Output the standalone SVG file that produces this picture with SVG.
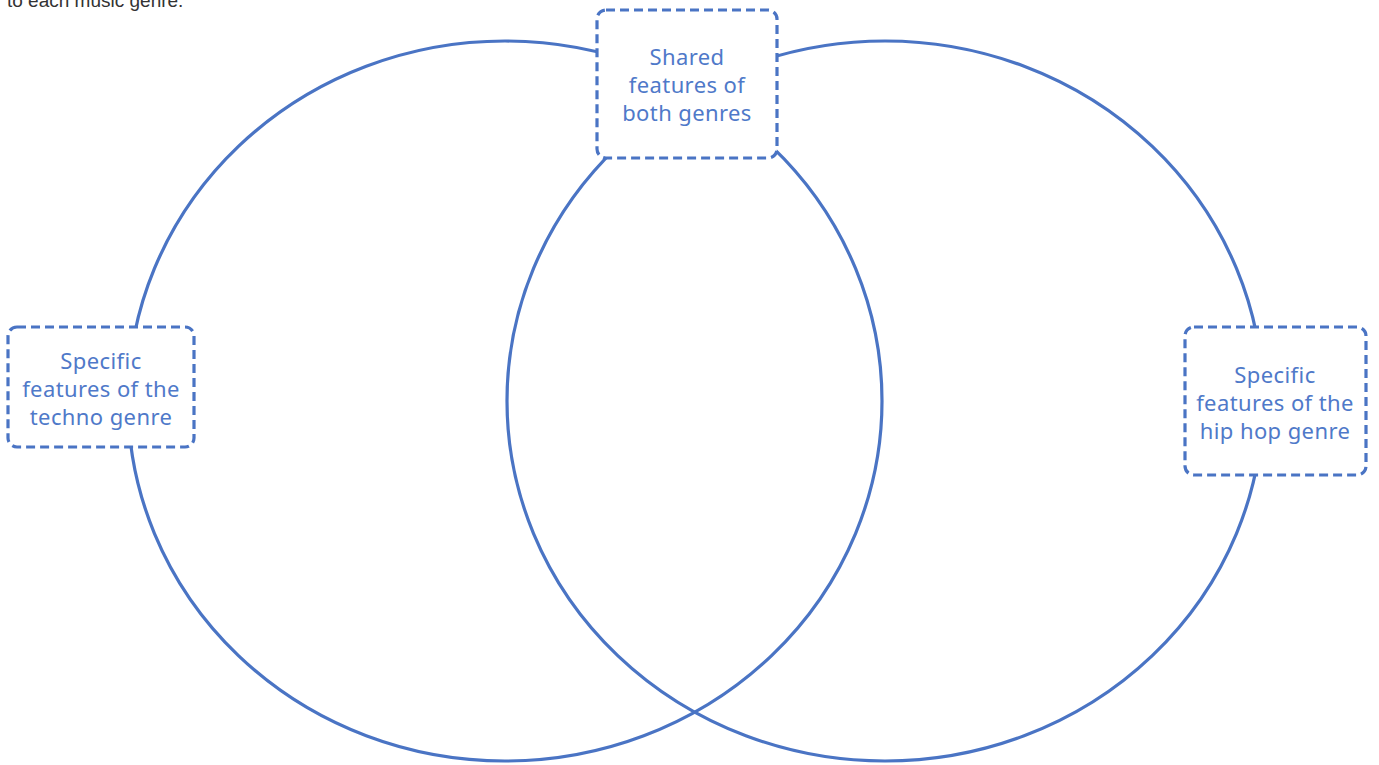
<svg xmlns="http://www.w3.org/2000/svg" width="1379" height="765" viewBox="0 0 1379 765">
<style>
.ring{fill:none;stroke:#4A74C4;stroke-width:3.2}
.box{fill:#fff;stroke:#4A74C4;stroke-width:3.2;stroke-dasharray:9 5}
.lbl{font-family:"Noto Sans","Liberation Sans",sans-serif;font-size:22px;letter-spacing:0.4px;fill:#4F79C9;text-anchor:middle}
.top{font-family:"Liberation Sans",sans-serif;font-size:19px;fill:#333}
</style>
<rect width="1379" height="765" fill="#fff"/>
<text class="top" x="7" y="7">to each music genre.</text>
<g id="connectors">
<ellipse class="ring" cx="505" cy="401" rx="377" ry="360"/>
<ellipse class="ring" cx="885" cy="401" rx="378" ry="360"/>
</g>
<g id="shared">
<rect class="box" x="597" y="10" width="180" height="148" rx="9"/>
<text class="lbl" x="687" y="65">Shared</text>
<text class="lbl" x="687" y="93">features of</text>
<text class="lbl" x="687" y="121">both genres</text>
</g>
<g id="techno">
<rect class="box" x="8" y="327" width="186" height="120" rx="9"/>
<text class="lbl" x="101" y="369">Specific</text>
<text class="lbl" x="101" y="397">features of the</text>
<text class="lbl" x="101" y="425">techno genre</text>
</g>
<g id="hiphop">
<rect class="box" x="1185" y="327" width="181" height="148" rx="9"/>
<text class="lbl" x="1275" y="383">Specific</text>
<text class="lbl" x="1275" y="411">features of the</text>
<text class="lbl" x="1275" y="439">hip hop genre</text>
</g>
</svg>
